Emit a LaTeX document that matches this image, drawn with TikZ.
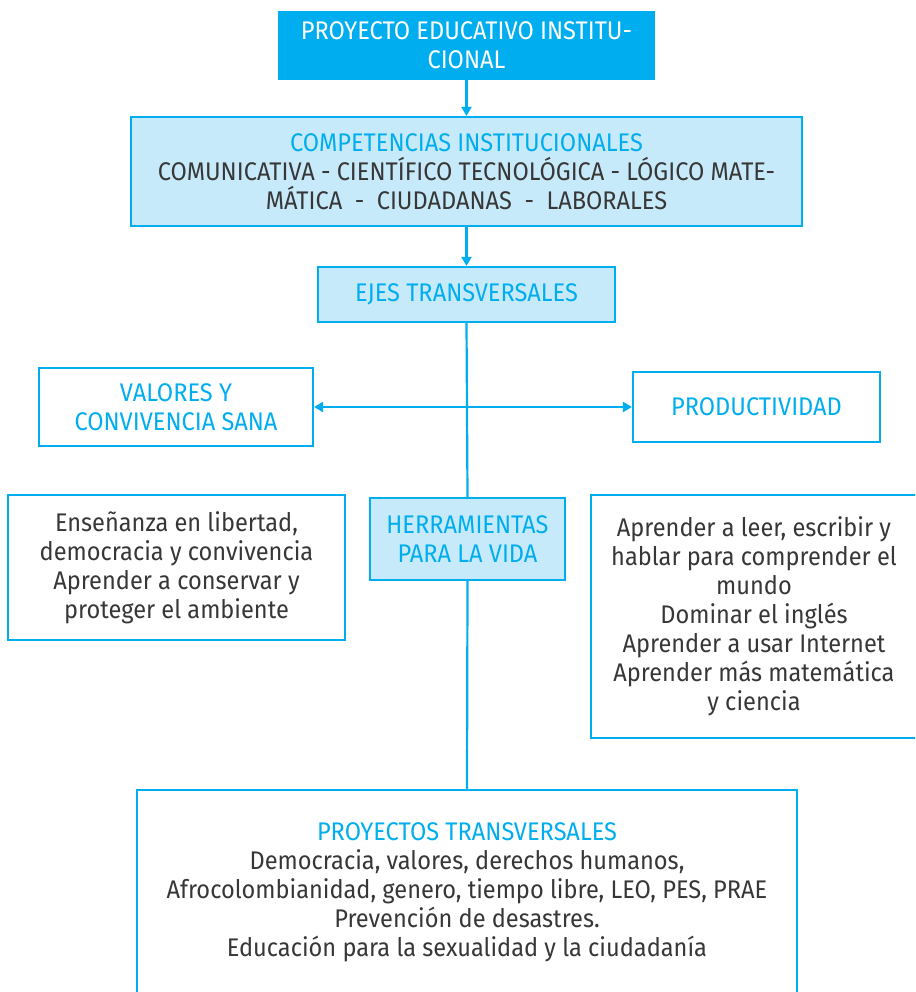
\documentclass[tikz,border=0pt]{standalone}
\usepackage{fontspec}
\setmainfont[FakeStretch=0.925]{Fira Sans}
\usetikzlibrary{arrows.meta}
\definecolor{cy}{RGB}{0,174,239}
\definecolor{lb}{RGB}{199,234,250}
\definecolor{dk}{RGB}{55,55,55}
\tikzset{
  box/.style={rectangle, draw=cy, line width=2.2pt, inner sep=0pt, align=center, text=dk,
    font=\fontsize{25.5}{29}\selectfont},
  lbox/.style={box, fill=lb},
  wbox/.style={box, fill=white},
  con/.style={draw=cy, line width=2.2pt},
  arr/.style={con, -{Triangle[length=9pt,width=10pt]}},
  darr/.style={con, {Triangle[length=9pt,width=10pt]}-{Triangle[length=9pt,width=10pt]}}
}
\begin{document}
\begin{tikzpicture}[x=1pt,y=-1pt]
\clip (0,0) rectangle (915,992);
\fill[white] (0,0) rectangle (915,992);
\node[box, fill=cy, draw=cy, text=white, minimum width=375pt, minimum height=67pt] (pei) at (466.5,45.5)
  {PROYECTO EDUCATIVO INSTITU-\\CIONAL};
\node[lbox, minimum width=671pt, minimum height=109pt] (comp) at (466.5,171.5)
  {{\color{cy}COMPETENCIAS INSTITUCIONALES}\\
   COMUNICATIVA - CIENTÍFICO TECNOLÓGICA - LÓGICO MATE-\\
   MÁTICA \ - \ CIUDADANAS \ - \ LABORALES};
\node[lbox, text=cy, minimum width=297pt, minimum height=55pt] (ejes) at (466.5,294.5)
  {EJES TRANSVERSALES};
\node[wbox, text=cy, minimum width=274pt, minimum height=78pt] (val) at (176,407)
  {VALORES Y\\CONVIVENCIA SANA};
\node[wbox, text=cy, minimum width=247pt, minimum height=70pt] (prod) at (756.5,407)
  {PRODUCTIVIDAD};
\node[wbox, minimum width=337pt, minimum height=145pt] (izq) at (176.5,567.5)
  {Enseñanza en libertad,\\democracia y convivencia\\Aprender a conservar y\\proteger el ambiente};
\node[lbox, text=cy, minimum width=195pt, minimum height=82pt] (herr) at (467.5,539)
  {HERRAMIENTAS\\PARA LA VIDA};
\node[wbox, minimum width=326pt, minimum height=243pt] (der) at (754,616.5)
  {Aprender a leer, escribir y\\hablar para comprender el\\mundo\\Dominar el inglés\\Aprender a usar Internet\\Aprender más matemática\\y ciencia};
\node[wbox, minimum width=660pt, minimum height=204pt] (proy) at (467,892)
  {{\color{cy}PROYECTOS TRANSVERSALES}\\
   Democracia, valores, derechos humanos,\\
   Afrocolombianidad, genero, tiempo libre, LEO, PES, PRAE\\
   Prevención de desastres.\\
   Educación para la sexualidad y la ciudadanía};
\draw[arr] (pei.south) -- (comp.north);
\draw[arr] (comp.south) -- (ejes.north);
\draw[con] (ejes.south) -- (herr.north);
\draw[con] (herr.south) -- (proy.north);
\draw[darr] (val.east) -- (prod.west);
\end{tikzpicture}
\end{document}
